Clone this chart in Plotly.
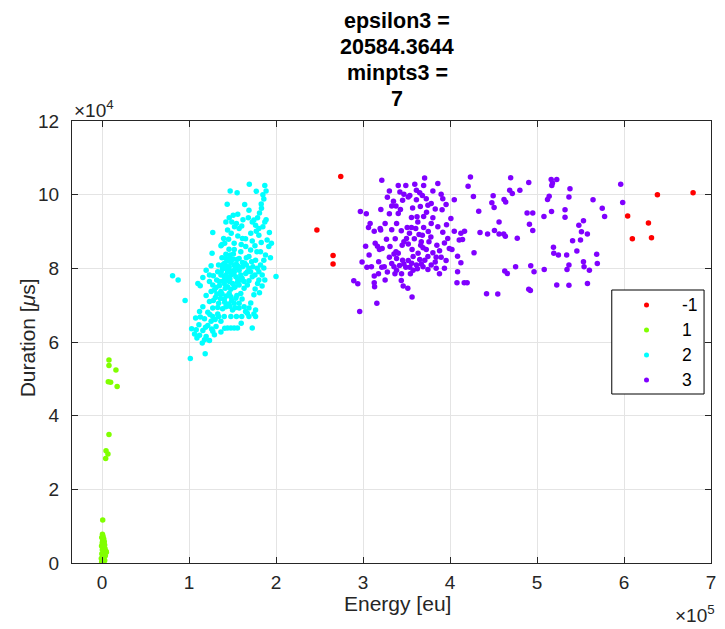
import plotly.graph_objects as go

# ---------------------------------------------------------------- data ----
title_lines = ["epsilon3 =", "20584.3644", "minpts3 =", "7"]
x_label = "Energy [eu]"
y_label = "Duration [<i>μ</i>s]"

cluster_labels = ["-1", "1", "2", "3"]
cluster_colors = ["#ff0000", "#80ff00", "#00ffff", "#8000ff"]

# (energy [eu], duration [us]) per DBSCAN cluster
noise_pts = [
    (247000, 90400), (274400, 104900), (265600, 83500), (265600, 81200),
    (604200, 94200), (628100, 92300), (609600, 88000), (631600, 88300),
    (638400, 100000), (679400, 100500),
]

cluster1_pts = [
    (8000, 55100), (8000, 53600), (16000, 52400), (7200, 49200), (9900, 49100),
    (17400, 47900), (8000, 34900), (4600, 30500), (6800, 29600), (4200, 28400),
    (800, 11700), (500, 7800), (1200, 7200), (-300, 6900), (2000, 6500),
    (800, 6100), (2600, 5800), (300, 5500), (1500, 5200), (3000, 4900),
    (-500, 4600), (1000, 4400), (2200, 4100), (3500, 3900), (400, 3600),
    (1800, 3300), (4200, 3000), (2800, 2700), (-200, 2500), (1300, 2200),
    (3800, 2000), (600, 1700), (2400, 1400), (-800, 1200), (1600, 900),
    (3100, 700), (200, 500), (900, 300), (-400, 200), (2000, 100),
    (4600, 3200), (5000, 2900), (700, 1000),
]

cluster2_pts = [
    (169300, 102800), (187100, 102500), (147300, 101000), (155300, 100500), (177300, 100900),
    (188600, 101000), (184900, 100000), (143900, 97400), (183000, 97500), (183300, 96300),
    (168900, 95800), (146200, 93700), (168200, 93700), (178800, 93700), (188600, 93200),
    (142400, 92600), (149200, 92600), (172700, 92600), (160600, 91500), (176500, 91700),
    (184900, 91300), (152300, 91300), (157600, 90800), (180300, 90800), (144300, 90400),
    (177300, 90100), (127300, 89700), (148500, 89500), (192400, 89700), (156100, 88800),
    (139800, 88100), (145500, 87900), (161400, 88100), (172700, 87400), (194700, 86800),
    (151900, 86800), (136700, 86100), (175800, 86100), (191700, 85900), (159500, 84500),
    (182200, 84500), (126500, 84100), (142400, 83800), (147300, 83600), (187900, 83600),
    (137900, 82900), (168900, 83200), (193600, 82900), (150800, 82500), (144300, 82000),
    (186000, 82200), (161400, 81600), (140500, 81300), (154500, 81100), (165900, 80900),
    (125400, 80700), (146200, 80400), (173500, 80400), (138600, 79800), (157600, 79500),
    (178400, 80000), (81100, 78000), (87500, 76800), (200000, 77800), (133000, 79100),
    (144300, 79100), (150800, 78600), (165200, 78600), (175800, 78200), (187100, 76800),
    (115900, 77500), (128000, 78000), (140500, 77700), (147000, 77100), (168900, 76600),
    (178800, 75900), (110200, 75900), (123500, 76400), (134800, 76400), (155700, 76200),
    (112900, 75300), (131100, 74800), (141700, 74600), (151900, 74800), (163300, 74600),
    (125400, 73700), (135600, 73200), (146200, 73200), (174600, 72800), (119700, 72600),
    (130300, 72100), (140500, 71700), (153800, 71900), (95500, 71300), (123500, 71000),
    (134100, 70500), (145500, 70300), (157600, 70500), (115900, 69600), (127300, 69200),
    (138600, 69000), (168900, 69200), (176500, 68700), (112100, 68300), (121600, 68100),
    (133000, 67600), (167000, 67800), (174600, 67600), (127300, 66900), (134100, 66900),
    (140500, 66900), (148100, 66900), (154500, 66900), (160600, 66900), (168900, 66900),
    (176500, 66900), (107600, 66500), (117800, 66300), (125400, 65600), (136700, 65600),
    (111400, 64700), (121600, 64500), (131100, 64200), (144300, 63800), (148100, 63800),
    (151900, 63800), (155700, 63800), (172700, 63800), (103000, 63600), (108300, 63300),
    (115900, 63100), (127300, 62900), (136700, 62700), (106400, 62200), (112100, 61800),
    (119700, 61500), (129200, 62000), (109100, 61100), (117800, 60600), (123500, 60400),
    (115200, 59700), (118600, 56800), (101500, 55500), (142400, 82700), (148100, 81600),
    (151900, 80900), (138600, 80400), (144300, 79800), (149200, 79300), (153000, 80000),
    (142400, 78200), (148100, 78200), (153800, 77700), (159500, 78200), (136700, 78200),
    (146200, 76400), (150000, 75900), (159500, 76800), (140500, 75900), (144300, 75000),
    (157600, 75500), (163300, 76400), (167000, 79100), (170800, 79100), (172700, 77700),
    (180300, 79100), (172000, 81800), (176500, 82200), (165900, 82900), (157600, 82700),
    (161400, 80400), (168900, 80000), (182200, 80900), (184100, 78200), (180300, 76800),
    (167000, 75500), (159500, 73200), (148100, 72300), (151900, 70500), (142400, 69600),
    (133000, 69400), (150000, 68700), (157600, 69200), (163300, 69600), (136700, 73700),
    (129200, 74100), (127300, 75500), (131800, 76800), (123500, 78200), (119700, 79500),
    (150800, 94400), (154500, 92200), (137900, 86500), (165200, 85900), (170800, 85000),
    (189800, 87700), (180300, 89000), (174600, 93100), (187100, 92600),
    (139000, 81000), (143000, 80600), (147000, 82900), (151000, 83900), (155000, 82400),
    (134000, 80900), (137000, 79000), (141000, 80000), (145000, 77500), (152000, 79000),
    (156000, 80600), (161000, 77300), (164000, 81400), (139000, 76500), (143000, 76800),
    (148000, 74300), (153000, 75000), (156000, 77200), (135000, 75300), (138000, 73000),
    (143000, 72500), (149000, 71200), (155000, 72600), (132000, 73000), (128000, 71300),
    (136000, 71800), (141000, 70800), (147000, 69700), (153000, 69300), (161000, 71700),
    (124000, 67500), (130000, 66100), (119000, 64000), (126000, 63500), (113000, 66800),
    (141000, 63700), (160000, 65100), (165000, 68300), (171000, 70600), (176000, 74400),
    (181000, 73400), (184000, 75200), (186000, 80100), (178000, 84500), (183000, 87000),
    (165000, 88000), (160000, 86500), (152000, 85100), (146000, 85200), (141000, 86800),
    (156000, 94700), (162000, 93200), (171000, 89500), (181000, 95000), (164000, 97300),
    (186000, 98800),
]

cluster3_pts = [
    (321600, 103900), (370800, 104500), (340500, 102500), (349200, 102500), (359500, 102800),
    (369700, 102500), (386000, 103000), (330300, 101000), (342400, 100700), (347000, 100100),
    (352000, 99400), (353800, 99800), (361400, 101200), (365200, 100500), (368200, 99800),
    (372700, 98900), (380300, 101000), (389800, 100100), (361400, 98600), (345500, 98500),
    (391700, 98900), (404900, 98600), (374600, 97100), (378400, 97600), (365900, 96800),
    (395500, 97300), (333000, 96900), (337900, 96900), (320500, 96000), (390900, 95900),
    (297000, 95400), (303800, 94800), (330300, 94800), (340500, 94900), (355700, 93800),
    (362100, 94000), (369700, 94100), (380300, 93700), (338600, 92200), (325400, 92200),
    (308200, 92200), (306300, 91100), (319700, 90800), (333000, 90500), (350800, 91100),
    (355700, 91100), (360600, 90800), (369700, 91100), (378400, 92200), (312900, 90100),
    (320300, 90400), (353400, 89500), (364400, 89200), (368200, 89000), (391700, 89800),
    (404900, 90100), (412500, 89500), (416700, 90100), (350000, 88100), (347000, 87200),
    (367000, 87200), (375800, 87200), (397400, 88100), (410600, 87700), (414400, 87800),
    (314000, 86800), (316600, 86000), (318900, 85100), (366300, 86300), (369000, 85600),
    (384900, 86300), (393600, 86900), (356400, 85100), (372700, 85100), (399200, 85400),
    (402200, 85100), (337900, 84500), (340500, 84100), (335600, 83900), (363300, 84100),
    (380300, 84200), (330300, 83000), (338600, 82700), (345500, 82200), (352000, 82100),
    (357600, 83200), (365200, 82400), (374600, 83200), (384100, 83000), (389800, 83000),
    (395500, 82100), (408700, 83300), (298900, 81700), (333000, 81300), (347000, 81200),
    (361400, 80900), (367000, 81200), (369000, 80400), (378400, 80900), (393600, 80000),
    (412500, 81500), (304500, 80300), (309700, 80400), (321600, 80300), (324400, 80400),
    (335600, 80400), (338600, 79500), (349200, 80300), (353800, 80300), (357600, 79500),
    (362500, 79900), (374600, 79700), (384100, 80000), (408700, 79100), (312900, 77900),
    (317800, 78500), (336700, 78500), (344300, 78500), (354500, 78500), (387900, 78500),
    (289400, 76600), (294000, 75800), (312900, 76100), (313300, 75000), (325400, 76800),
    (346200, 75200), (351500, 74600), (408000, 76100), (416300, 76100), (356400, 72200),
    (315900, 70500), (296200, 68300),
    (328000, 99300), (335000, 98200), (343000, 96000), (357000, 96400), (363000, 92600),
    (373000, 95200), (383000, 96100), (386000, 91300), (375000, 90000), (344000, 90200),
    (337000, 88000), (327000, 87900), (322000, 85400), (331000, 85900), (345000, 86300),
    (352000, 86600), (359000, 88000), (378000, 88500), (388000, 84800), (383000, 81700),
    (371000, 82200), (356000, 81400), (342000, 80800), (328000, 79000), (318000, 81800),
    (303000, 86000), (307000, 83600), (396000, 91800), (401000, 93500), (344000, 76700),
    (423500, 104800), (469700, 104600), (420800, 102300), (490500, 103300), (468600, 101200),
    (471600, 100300), (480300, 101200), (516300, 104100), (522700, 104100), (517800, 103200),
    (517000, 102500), (537900, 101600), (426900, 99500), (449600, 99700), (462100, 98700),
    (464000, 98000), (448100, 97800), (450700, 96500), (514000, 99600), (512100, 98700),
    (536700, 99400), (564400, 98600), (575000, 96300), (577700, 94100), (433000, 95500),
    (488600, 95000), (495100, 95000), (516700, 95400), (532200, 95900), (508000, 94100),
    (532200, 93900), (456400, 92600), (491300, 92000), (553400, 92900), (548100, 91700),
    (495100, 90300), (434500, 89700), (443200, 89300), (451100, 90300), (456400, 89300),
    (461700, 89300), (463600, 88700), (477300, 88200), (551100, 89900), (557900, 89300),
    (540900, 87500), (550000, 87700), (518900, 85700), (427600, 84200), (519300, 84100),
    (524600, 83600), (534100, 83600), (545800, 84700), (568600, 83800), (553400, 81800),
    (569300, 81300), (536700, 80900), (554100, 80400), (560200, 79500), (475400, 80400),
    (492800, 80700), (496600, 79100), (462900, 79300), (465900, 78600), (508300, 79700),
    (534500, 79700), (419700, 76100), (522700, 75500), (536700, 75400), (558000, 75900),
    (442000, 73100), (454900, 73000), (490500, 74300), (492400, 74000), (596200, 102800),
    (598500, 97900),
]

x_tick_vals = [0, 100000, 200000, 300000, 400000, 500000, 600000, 700000]
x_tick_text = ["0", "1", "2", "3", "4", "5", "6", "7"]
y_tick_vals = [0, 20000, 40000, 60000, 80000, 100000, 120000]
y_tick_text = ["0", "2", "4", "6", "8", "10", "12"]
x_range = [-34500, 700000]
y_range = [0, 120000]

# ------------------------------------------------------------- styling ----
W, H = 725, 629
ML, MR, MT, MB = 72, 9, 121, 66
PW, PH = W - ML - MR, H - MT - MB
FONT = "Liberation Sans, Arial, Helvetica, sans-serif"
INK = "#262626"


def px_x(px):
    """Pixel column -> paper x."""
    return (px - ML) / PW


def px_y(py):
    """Pixel row -> paper y."""
    return (H - MB - py) / PH


groups = [noise_pts, cluster1_pts, cluster2_pts, cluster3_pts]

fig = go.Figure()
for pts, name, color in zip(groups, cluster_labels, cluster_colors):
    xs = [p[0] for p in pts]
    ys = [p[1] for p in pts]
    fig.add_trace(go.Scatter(
        x=xs, y=ys, mode="markers", name=name, showlegend=False,
        marker=dict(size=5.5, color=color, line=dict(width=0)),
        hoverinfo="skip",
    ))

axis_common = dict(
    showline=True, linecolor=INK, linewidth=1, mirror="ticks",
    ticks="inside", ticklen=6, tickwidth=1, tickcolor=INK,
    showgrid=True, gridcolor="#e4e4e4", gridwidth=1, zeroline=False,
    tickfont=dict(family=FONT, size=19, color=INK),
)

fig.update_layout(
    width=W, height=H,
    margin=dict(l=ML, r=MR, t=MT, b=MB),
    paper_bgcolor="white", plot_bgcolor="white",
    showlegend=False,
    xaxis=dict(range=x_range, tickvals=x_tick_vals, ticktext=x_tick_text,
               ticklabelstandoff=2, **axis_common),
    yaxis=dict(range=y_range, tickvals=y_tick_vals, ticktext=y_tick_text,
               ticklabelstandoff=8, **axis_common),
)

annotations = []
# multi-line bold title
for text, py in zip(title_lines, [21, 47, 73, 99]):
    annotations.append(dict(
        text=f"<b>{text}</b>", xref="paper", yref="paper",
        x=px_x(400), y=px_y(py), xanchor="center", yanchor="middle",
        showarrow=False, font=dict(family=FONT, size=21.5, color="#000000"),
    ))

# axis titles
annotations.append(dict(
    text=x_label, xref="paper", yref="paper", x=px_x(400), y=px_y(603),
    xanchor="center", yanchor="middle", showarrow=False,
    font=dict(family=FONT, size=21, color=INK),
))
annotations.append(dict(
    text=y_label, xref="paper", yref="paper", x=px_x(27), y=px_y(338),
    xanchor="center", yanchor="middle", showarrow=False, textangle=-90,
    font=dict(family=FONT, size=21, color=INK),
))

# axis exponent labels
annotations.append(dict(
    text="×10<sup>4</sup>", xref="paper", yref="paper", x=px_x(72), y=px_y(109),
    xanchor="left", yanchor="middle", showarrow=False,
    font=dict(family=FONT, size=19, color=INK),
))
annotations.append(dict(
    text="×10<sup>5</sup>", xref="paper", yref="paper", x=px_x(678), y=px_y(614),
    xanchor="left", yanchor="middle", showarrow=False,
    font=dict(family=FONT, size=19, color=INK),
))

# legend box with one row per cluster
shapes = [dict(
    type="rect", xref="paper", yref="paper",
    x0=px_x(616), x1=px_x(709), y0=px_y(394), y1=px_y(290),
    line=dict(color="#000000", width=1), fillcolor="white", layer="above",
)]
for i, (name, color) in enumerate(zip(cluster_labels, cluster_colors)):
    row_y = px_y(305 + 25 * i)
    shapes.append(dict(
        type="circle", xref="paper", yref="paper",
        xsizemode="pixel", ysizemode="pixel",
        xanchor=px_x(651), yanchor=row_y,
        x0=-2.5, x1=2.5, y0=-2.5, y1=2.5,
        fillcolor=color, line=dict(width=0), layer="above",
    ))
    annotations.append(dict(
        text=name, xref="paper", yref="paper", x=px_x(685), y=row_y,
        xanchor="left", yanchor="middle", showarrow=False,
        font=dict(family=FONT, size=17.5, color="#000000"),
    ))

fig.update_layout(annotations=annotations, shapes=shapes)

fig.write_html("out.html")
